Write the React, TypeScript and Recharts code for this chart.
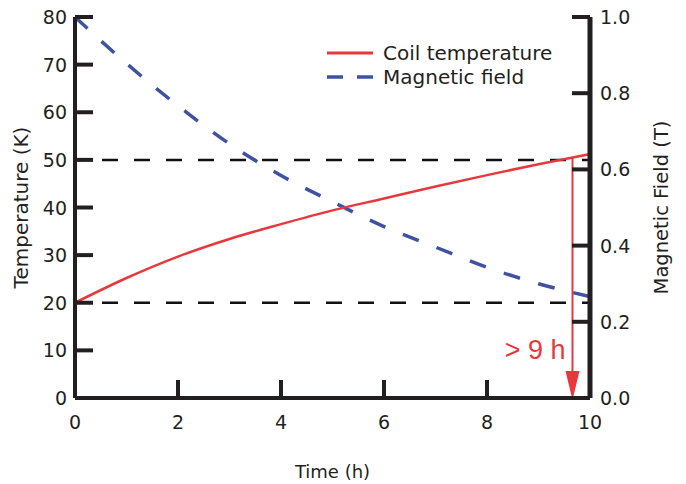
import {
  LineChart,
  Line,
  XAxis,
  YAxis,
  ReferenceLine,
  Legend,
} from "recharts";

const times = [0, 1, 2, 3, 4, 5, 6, 7, 8, 9, 10];
const coilTemp = [20, 25.2, 29.7, 33.4, 36.5, 39.4, 41.9, 44.4, 46.8, 49.1, 51.2];
const magField = [1.0, 0.878, 0.767, 0.667, 0.584, 0.515, 0.45, 0.396, 0.343, 0.3, 0.266];

const timeTicks = [0, 2, 4, 6, 8, 10];
const tempTicks = [0, 10, 20, 30, 40, 50, 60, 70, 80];
const fieldTicks = [0, 0.2, 0.4, 0.6, 0.8, 1.0];
const limitLines = [50, 20];

const arrowTime = 9.66;
const arrowTop = 50.5;
const arrowText = "> 9 h";

const FONT = "'DejaVu Sans', Verdana, sans-serif";
const INK = "#231f20";
const RED = "#e8383d";
const BLUE = "#3f52a2";

const data = times.map((t, i) => ({
  t,
  temp: coilTemp[i],
  field: magField[i],
}));

function LeftTick({ x, y, payload }: any) {
  return (
    <g>
      <line x1={x + 8} x2={x + 26} y1={y} y2={y} stroke={INK} strokeWidth={4} />
      <text x={x} y={y} dy={7} textAnchor="end" fontFamily={FONT} fontSize={19} fill={INK}>
        {payload.value}
      </text>
    </g>
  );
}

function RightTick({ x, y, payload }: any) {
  return (
    <g>
      <line x1={x - 10} x2={x - 28} y1={y} y2={y} stroke={INK} strokeWidth={4} />
      <text x={x} y={y} dy={7} textAnchor="start" fontFamily={FONT} fontSize={19} fill={INK}>
        {Number(payload.value).toFixed(1)}
      </text>
    </g>
  );
}

function BottomTick({ x, y, payload }: any) {
  return (
    <g>
      <line x1={x} x2={x} y1={y - 12} y2={y - 30} stroke={INK} strokeWidth={4} />
      <text x={x} y={y} dy={19} textAnchor="middle" fontFamily={FONT} fontSize={19} fill={INK}>
        {payload.value}
      </text>
    </g>
  );
}

function TopTick({ x, y }: any) {
  return <line x1={x} x2={x} y1={y} y2={y + 21} stroke={INK} strokeWidth={4} />;
}

function Arrow({ x1, y1, x2, y2 }: any) {
  return (
    <g>
      <line x1={x1} y1={y1} x2={x2} y2={y2 - 24} stroke={RED} strokeWidth={2} />
      <polygon
        points={`${x2 - 7},${y2 - 27} ${x2 + 7},${y2 - 27} ${x2},${y2 + 2}`}
        fill={RED}
      />
      <text
        x={x2 - 7}
        y={y2 - 39}
        textAnchor="end"
        fontFamily="'Liberation Sans', Arial, sans-serif"
        fontSize={27}
        fill={RED}
      >
        {arrowText}
      </text>
    </g>
  );
}

function LegendBox() {
  return (
    <div style={{ fontFamily: FONT, fontSize: 20, color: INK, lineHeight: "24px" }}>
      <div style={{ display: "flex", alignItems: "center" }}>
        <svg width={46} height={10}>
          <line x1={0} x2={46} y1={5} y2={5} stroke={RED} strokeWidth={3} />
        </svg>
        <span style={{ marginLeft: 10 }}>Coil temperature</span>
      </div>
      <div style={{ display: "flex", alignItems: "center" }}>
        <svg width={46} height={10}>
          <line x1={0} x2={46} y1={5} y2={5} stroke={BLUE} strokeWidth={3.5} strokeDasharray="16 14" />
        </svg>
        <span style={{ marginLeft: 10 }}>Magnetic field</span>
      </div>
    </div>
  );
}

export default function App() {
  return (
    <div style={{ position: "absolute", left: 0, top: 0, background: "#fff" }}>
      <LineChart
        width={686}
        height={484}
        data={data}
        margin={{ top: 17, right: 0, bottom: 0, left: 0 }}
      >
        <XAxis
          xAxisId="bottom"
          dataKey="t"
          type="number"
          domain={[0, 10]}
          ticks={timeTicks}
          height={86}
          tickSize={0}
          tickMargin={12}
          tickLine={false}
          axisLine={{ stroke: INK, strokeWidth: 4 }}
          tick={<BottomTick />}
          label={{
            value: "Time (h)",
            position: "insideBottom",
            offset: 6,
            style: { fontFamily: FONT, fontSize: 18, fill: INK },
          }}
        />
        <XAxis
          xAxisId="top"
          orientation="top"
          dataKey="t"
          type="number"
          domain={[0, 10]}
          ticks={timeTicks}
          height={0}
          tickSize={0}
          tickMargin={0}
          tickLine={false}
          axisLine={{ stroke: INK, strokeWidth: 3 }}
          tick={<TopTick />}
        />
        <YAxis
          yAxisId="left"
          domain={[0, 80]}
          ticks={tempTicks}
          width={75}
          tickSize={0}
          tickMargin={8}
          tickLine={false}
          axisLine={{ stroke: INK, strokeWidth: 4 }}
          tick={<LeftTick />}
          label={{
            value: "Temperature (K)",
            angle: -90,
            position: "insideLeft",
            offset: 21,
            style: { textAnchor: "middle", fontFamily: FONT, fontSize: 20, fill: INK },
          }}
        />
        <YAxis
          yAxisId="right"
          orientation="right"
          domain={[0, 1]}
          ticks={fieldTicks}
          width={96}
          tickSize={0}
          tickMargin={10}
          tickLine={false}
          axisLine={{ stroke: INK, strokeWidth: 5 }}
          tick={<RightTick />}
          label={{
            value: "Magnetic Field (T)",
            angle: -90,
            position: "insideRight",
            offset: 25,
            style: { textAnchor: "middle", fontFamily: FONT, fontSize: 19.5, fill: INK },
          }}
        />
        <Legend
          layout="horizontal"
          verticalAlign="middle"
          content={<LegendBox />}
          wrapperStyle={{ left: 327, top: 41, width: "auto" }}
        />
        {limitLines.map((v) => (
          <ReferenceLine
            key={v}
            xAxisId="bottom"
            yAxisId="left"
            y={v}
            stroke="#111"
            strokeWidth={2.5}
            strokeDasharray="16 16"
            strokeDashoffset={5}
          />
        ))}
        <Line
          xAxisId="bottom"
          yAxisId="right"
          dataKey="field"
          type="monotone"
          stroke={BLUE}
          strokeWidth={3.5}
          strokeDasharray="17 19"
          dot={false}
          isAnimationActive={false}
        />
        <Line
          xAxisId="bottom"
          yAxisId="left"
          dataKey="temp"
          type="monotone"
          stroke={RED}
          strokeWidth={2.5}
          dot={false}
          isAnimationActive={false}
        />
        <ReferenceLine
          xAxisId="bottom"
          yAxisId="left"
          segment={[
            { x: arrowTime, y: arrowTop },
            { x: arrowTime, y: 0 },
          ]}
          shape={<Arrow />}
        />
      </LineChart>
    </div>
  );
}
